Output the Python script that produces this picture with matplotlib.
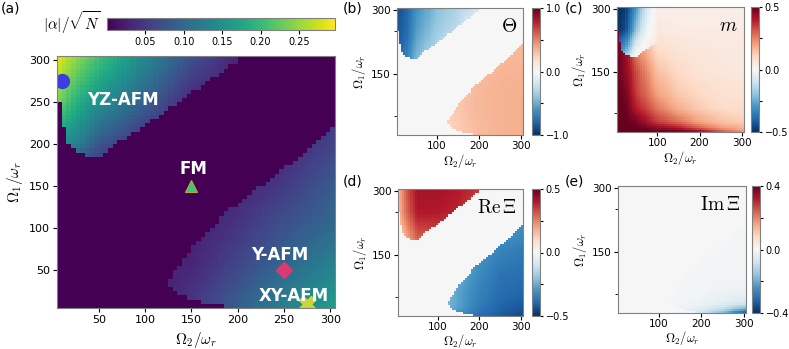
import numpy as np
import matplotlib
matplotlib.use('Agg')
import matplotlib.pyplot as plt
from matplotlib.ticker import FormatStrFormatter

plt.rcParams['mathtext.fontset'] = 'cm'
plt.rcParams['font.family'] = 'DejaVu Sans'

# ---- data ----
# grid of the scan (Omega_2, Omega_1 in units of omega_r), 5 wide cells
edges = np.arange(5, 306, 5)
xc = edges[:-1] + 2.5
yc = edges[:-1] + 2.5

# YZ-AFM region: lower limit of Omega_1 for each Omega_2
up_x = [7.5, 12.5, 17.5, 22.5, 27.5, 32.5, 37.5, 52.5, 66, 117, 157, 201, 240]
up_y = [251, 218, 200, 194, 188, 188, 183, 183, 198, 235, 267, 300, 400]
# Y/XY-AFM region: upper and lower limits of Omega_1
lo_x = [120, 126, 128, 153, 189, 234, 277, 310]
lo_top = [0, 33, 41, 80, 120, 157, 194, 226]
lo_bx = [125, 130, 135, 145, 160, 185, 186, 310]
lo_by = [33, 27, 22, 17, 12, 10, 0, 0]

# readings of each map on a coarse grid (rows: Omega_1, cols: Omega_2)
tab_x = [5, 25, 50, 100, 150, 200, 250, 305]
tab_y = [5, 15, 30, 60, 100, 150, 200, 250, 305]

alpha_tab = [
    [0.00, 0.00, 0.00, 0.02, 0.045, 0.085, 0.130, 0.165],
    [0.00, 0.00, 0.00, 0.02, 0.045, 0.085, 0.125, 0.160],
    [0.00, 0.00, 0.00, 0.02, 0.040, 0.075, 0.115, 0.148],
    [0.00, 0.00, 0.00, 0.02, 0.030, 0.060, 0.095, 0.128],
    [0.00, 0.00, 0.00, 0.02, 0.025, 0.045, 0.075, 0.102],
    [0.00, 0.00, 0.00, 0.02, 0.020, 0.030, 0.050, 0.085],
    [0.15, 0.13, 0.08, 0.03, 0.020, 0.020, 0.030, 0.060],
    [0.24, 0.19, 0.15, 0.09, 0.030, 0.020, 0.020, 0.040],
    [0.29, 0.25, 0.21, 0.14, 0.075, 0.030, 0.020, 0.030],
]

theta_tab = [
    [0.00, 0.00, 0.00, 0.18, 0.26, 0.32, 0.35, 0.36],
    [0.00, 0.00, 0.00, 0.18, 0.26, 0.32, 0.35, 0.36],
    [0.00, 0.00, 0.00, 0.18, 0.26, 0.32, 0.35, 0.36],
    [0.00, 0.00, 0.00, 0.20, 0.27, 0.33, 0.35, 0.36],
    [0.00, 0.00, 0.00, 0.20, 0.27, 0.33, 0.35, 0.36],
    [-0.75, -0.65, -0.40, 0.00, 0.27, 0.32, 0.34, 0.35],
    [-0.82, -0.72, -0.48, -0.28, 0.00, 0.30, 0.32, 0.33],
    [-0.86, -0.80, -0.56, -0.36, -0.25, 0.00, 0.30, 0.30],
    [-0.88, -0.82, -0.62, -0.42, -0.30, -0.20, 0.00, 0.30],
]

m_tab = [
    [0.50, 0.50, 0.50, 0.50, 0.50, 0.45, 0.32, 0.22],
    [0.50, 0.50, 0.50, 0.45, 0.40, 0.30, 0.22, 0.17],
    [0.50, 0.50, 0.48, 0.35, 0.28, 0.20, 0.15, 0.12],
    [0.50, 0.50, 0.40, 0.27, 0.18, 0.13, 0.10, 0.09],
    [0.50, 0.48, 0.35, 0.20, 0.13, 0.10, 0.08, 0.07],
    [0.50, 0.45, 0.33, 0.15, 0.10, 0.07, 0.06, 0.05],
    [0.50, 0.45, 0.25, 0.10, 0.07, 0.06, 0.05, 0.05],
    [0.50, 0.45, 0.10, 0.05, 0.04, 0.04, 0.04, 0.04],
    [0.50, 0.45, 0.05, 0.03, 0.03, 0.03, 0.03, 0.03],
]
# m inside the YZ-AFM corner
mw_x = [5, 25, 50, 75, 100]
mw_y = [183, 200, 250, 305]
m_wedge = [
    [-0.25, -0.12, 0.02, 0.05, 0.05],
    [-0.38, -0.25, -0.02, 0.04, 0.05],
    [-0.50, -0.45, -0.20, -0.02, 0.04],
    [-0.50, -0.48, -0.30, -0.08, 0.03],
]

rexi_tab = [
    [0.00, 0.00, 0.00, -0.20, -0.30, -0.38, -0.42, -0.45],
    [0.00, 0.00, 0.00, -0.20, -0.30, -0.37, -0.41, -0.44],
    [0.00, 0.00, 0.00, -0.18, -0.27, -0.35, -0.40, -0.42],
    [0.00, 0.00, 0.00, -0.18, -0.27, -0.34, -0.38, -0.40],
    [0.00, 0.00, 0.00, -0.18, -0.25, -0.32, -0.37, -0.38],
    [0.10, 0.12, 0.20, 0.20, -0.22, -0.30, -0.34, -0.36],
    [0.10, 0.20, 0.32, 0.33, 0.30, -0.25, -0.30, -0.32],
    [0.15, 0.28, 0.40, 0.40, 0.38, 0.30, -0.25, -0.28],
    [0.15, 0.30, 0.42, 0.42, 0.40, 0.36, 0.30, -0.25],
]

imxi_tab = [
    [0.0, 0.0, 0.0, -0.01, -0.03, -0.08, -0.18, -0.36],
    [0.0, 0.0, 0.0, -0.01, -0.02, -0.05, -0.10, -0.20],
    [0.0, 0.0, 0.0, -0.01, -0.01, -0.02, -0.04, -0.06],
    [0.0, 0.0, 0.0, 0.00, -0.01, -0.01, -0.02, -0.02],
    [0.0, 0.0, 0.0, 0.00, -0.01, -0.01, -0.01, -0.01],
    [0.0, 0.0, 0.0, 0.00, 0.00, -0.01, -0.01, -0.01],
    [0.0, 0.0, 0.0, 0.00, 0.00, 0.00, -0.01, -0.01],
    [0.0, 0.0, 0.0, 0.00, 0.00, 0.00, 0.00, 0.00],
    [0.0, 0.0, 0.0, 0.00, 0.00, 0.00, 0.00, 0.00],
]

# marked points of panel (a)
phase_names = ['YZ-AFM', 'FM', 'Y-AFM', 'XY-AFM']
phase_x = [10, 150, 250, 275]
phase_y = [275, 150, 50, 10]


def from_table(tab, xs, ys):
    rows = np.array([np.interp(xc, xs, r) for r in tab])
    return np.array([np.interp(yc, ys, rows[:, j]) for j in range(len(xc))]).T


X, Y = np.meshgrid(xc, yc)
upper = Y >= np.interp(X, up_x, up_y)
lower = (Y <= np.interp(X, lo_x, lo_top)) & (Y >= np.interp(X, lo_bx, lo_by))
inside = upper | lower

alpha = np.where(inside, from_table(alpha_tab, tab_x, tab_y), 0.0)
theta = np.where(inside, from_table(theta_tab, tab_x, tab_y), 0.0)
rexi = np.where(inside, from_table(rexi_tab, tab_x, tab_y), 0.0)
imxi = np.where(lower, from_table(imxi_tab, tab_x, tab_y), 0.0)
m = from_table(m_tab, tab_x, tab_y)
mw = from_table(m_wedge, mw_x, mw_y)
m = np.where(upper & (X < 100), mw, m)

# ---- figure ----
W, H = 789, 349
fig = plt.figure(figsize=(W / 100, H / 100), dpi=100)


def box(x0, y0, x1, y1):
    return [x0 / W, 1 - y1 / H, (x1 - x0) / W, (y1 - y0) / H]


def frame(ax, c='0.5'):
    for s in ax.spines.values():
        s.set_color(c)


ax_a = fig.add_axes(box(57, 56, 335, 308))
cax_a = fig.add_axes(box(107, 18, 335, 30))

im = ax_a.pcolormesh(edges, edges, alpha, cmap='viridis', vmin=0, vmax=0.297)
ax_a.set_xlim(5, 305)
ax_a.set_ylim(5, 305)
ax_a.set_xticks([50, 100, 150, 200, 250, 300])
ax_a.set_yticks([50, 100, 150, 200, 250, 300])
ax_a.tick_params(labelsize=8, length=3, pad=2)
ax_a.set_xlabel(r'$\Omega_2/\omega_r$', fontsize=11, va='center')
ax_a.xaxis.set_label_coords(0.5, -0.125)
ax_a.set_ylabel(r'$\Omega_1/\omega_r$', fontsize=11, labelpad=3)
frame(ax_a)

ax_a.plot(phase_x[0], phase_y[0], 'o', ms=10, color='#3b3de0')
ax_a.plot(phase_x[1], phase_y[1], '^', ms=9, color='#3cc47c', mec='#b9a838', mew=0.8)
ax_a.plot(phase_x[2], phase_y[2], 'D', ms=8, color='#d93a72')
ax_a.plot(phase_x[3], phase_y[3], 'X', ms=11, color='#c9d63a')

label_pos = [(76, 253), (152, 171), (245, 68), (261, 19)]
for name, (tx, ty) in zip(phase_names, label_pos):
    ax_a.text(tx, ty, name, color='white', fontweight='bold', fontsize=12,
              ha='center', va='center')

cb = fig.colorbar(im, cax=cax_a, orientation='horizontal')
cb.set_ticks([0.05, 0.10, 0.15, 0.20, 0.25])
cb.ax.xaxis.set_major_formatter(FormatStrFormatter('%.2f'))
cb.ax.tick_params(labelsize=7, length=3, pad=2)
cb.outline.set_edgecolor('0.5')
fig.text(72 / W, 1 - 23 / H, r'$|\alpha|/\sqrt{N}$', ha='center', va='center', fontsize=11)

panels = [
    ('(b)', theta, -1.0, 1.0, r'$\Theta$', box(397, 8, 523, 135), box(532, 8, 540, 135),
     [-1, -0.5, 0, 0.5, 1], ['\u22121.0', '', '0.0', '', '1.0'], (343, 9), -0.205),
    ('(c)', m, -0.5, 0.5, r'$m$', box(617, 7, 744, 132), box(751, 7, 759, 132),
     [-0.5, -0.25, 0, 0.25, 0.5], ['\u22120.5', '', '0.0', '', '0.5'], (565, 9), -0.205),
    ('(d)', rexi, -0.5, 0.5, r'$\mathrm{Re}\,\Xi$', box(398, 189, 523, 316), box(532, 189, 540, 316),
     [-0.5, -0.25, 0, 0.25, 0.5], ['\u22120.5', '', '0.0', '', '0.5'], (343, 182), -0.195),
    ('(e)', imxi, -0.4, 0.4, r'$\mathrm{Im}\,\Xi$', box(618, 186, 746, 313), box(752, 186, 760, 313),
     [-0.4, -0.2, 0, 0.2, 0.4], ['\u22120.4', '', '0.0', '', '0.4'], (565, 182), -0.2),
]

for letter, field, lo, hi, title, pos, cpos, cticks, clabels, lpos, xl_y in panels:
    ax = fig.add_axes(pos)
    cax = fig.add_axes(cpos)
    q = ax.pcolormesh(edges, edges, field, cmap='RdBu_r', vmin=lo, vmax=hi)
    ax.set_xlim(5, 305)
    ax.set_ylim(5, 305)
    ax.set_xticks([100, 200, 300])
    ax.set_yticks([150, 300])
    ax.set_yticks([50, 250], minor=True)
    ax.tick_params(labelsize=7.5, length=3, pad=1.5)
    ax.tick_params(which='minor', length=2)
    ax.set_xlabel(r'$\Omega_2/\omega_r$', fontsize=9, va='center')
    ax.xaxis.set_label_coords(0.5, xl_y)
    ax.set_ylabel(r'$\Omega_1/\omega_r$', fontsize=9, labelpad=2)
    ax.text(0.95, 0.93, title, transform=ax.transAxes, ha='right', va='top', fontsize=14)
    frame(ax)
    c = fig.colorbar(q, cax=cax)
    c.set_ticks(cticks)
    c.set_ticklabels(clabels)
    c.ax.tick_params(labelsize=7, length=2.5, pad=1.5)
    c.outline.set_edgecolor('0.5')
    fig.text(lpos[0] / W, 1 - lpos[1] / H, letter, fontsize=10, va='center')

fig.text(1 / W, 1 - 9 / H, '(a)', fontsize=10, va='center')

fig.savefig('out.png', dpi=100)
